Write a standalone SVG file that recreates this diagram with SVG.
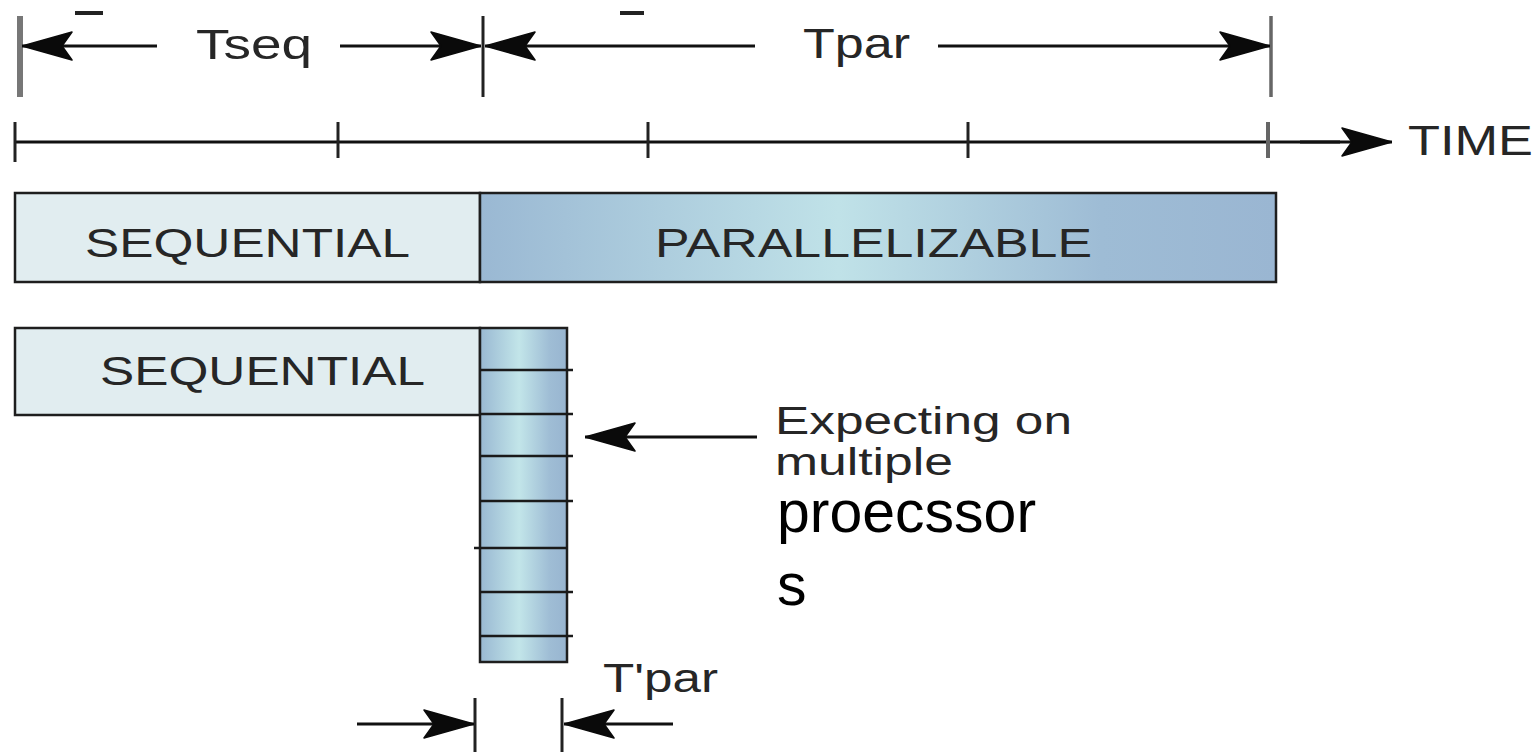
<svg xmlns="http://www.w3.org/2000/svg" width="1539" height="752" viewBox="0 0 1539 752">
  <style>
    .lbl { font-family: "Liberation Sans", Arial, sans-serif; fill: #262626; }
    .box { stroke: #1e1e1e; stroke-width: 2.5; }
    .seq { fill: #e1edf0; }
    .line { stroke: #111; stroke-width: 3; fill: none; }
    .tick { stroke: #222; stroke-width: 3; }
    .div { stroke: #1a1a1a; stroke-width: 2.5; }
  </style>
  <defs>
    <marker id="arrow" viewBox="0 0 52 30" refX="52" refY="15" markerWidth="52" markerHeight="30" markerUnits="userSpaceOnUse" orient="auto">
      <path d="M52,15 L2,1 L12,15 L2,29 Z" fill="#0a0a0a" stroke="#0a0a0a" stroke-width="1.5" stroke-linejoin="round"/>
    </marker>
    <linearGradient id="parBar" x1="480" y1="0" x2="1276" y2="0" gradientUnits="userSpaceOnUse">
      <stop offset="0" stop-color="#9ab8d3"/>
      <stop offset="0.45" stop-color="#c0e2e8"/>
      <stop offset="0.78" stop-color="#9ebcd5"/>
      <stop offset="1" stop-color="#9ab6d2"/>
    </linearGradient>
    <linearGradient id="parCol" x1="480" y1="0" x2="567" y2="0" gradientUnits="userSpaceOnUse">
      <stop offset="0" stop-color="#99b8d2"/>
      <stop offset="0.45" stop-color="#c2e5e9"/>
      <stop offset="0.8" stop-color="#9fbdd5"/>
      <stop offset="1" stop-color="#98b5d0"/>
    </linearGradient>
  </defs>

  <!-- short marks along the top edge -->
  <rect x="75" y="11" width="28" height="4" fill="#222"/>
  <rect x="620" y="11" width="24" height="4" fill="#222"/>

  <!-- span limits for Tseq / Tpar -->
  <g id="span-ticks">
    <line x1="20" y1="16" x2="20" y2="97" stroke="#777" stroke-width="6"/>
    <line x1="483" y1="16" x2="483" y2="97" class="tick"/>
    <line x1="1271" y1="16" x2="1271" y2="97" stroke="#666" stroke-width="3.5"/>
  </g>

  <g id="tseq-label"><text class="lbl" x="196" y="59" font-size="42" textLength="116" lengthAdjust="spacingAndGlyphs">Tseq</text></g>
  <g id="tpar-label"><text class="lbl" x="803" y="58" font-size="42" textLength="107" lengthAdjust="spacingAndGlyphs">Tpar</text></g>

  <!-- time axis -->
  <g id="time-axis">
    <line x1="15" y1="142" x2="1340" y2="142" class="line"/>
    <line x1="15" y1="122" x2="15" y2="162" class="tick"/>
    <line x1="338" y1="122" x2="338" y2="158" class="tick"/>
    <line x1="648" y1="122" x2="648" y2="158" class="tick"/>
    <line x1="968" y1="122" x2="968" y2="158" class="tick"/>
    <line x1="1268" y1="122" x2="1268" y2="158" stroke="#666" stroke-width="4"/>
    <text class="lbl" x="1408" y="155" font-size="42" textLength="125" lengthAdjust="spacingAndGlyphs">TIME</text>
  </g>

  <!-- single-processor run -->
  <g id="seq-bar">
    <rect x="15" y="193" width="465" height="89" class="box seq"/>
    <text class="lbl" x="85" y="257" font-size="40" textLength="325" lengthAdjust="spacingAndGlyphs">SEQUENTIAL</text>
  </g>
  <g id="par-bar">
    <rect x="480" y="193" width="796" height="89" class="box" fill="url(#parBar)"/>
    <text class="lbl" x="655" y="257" font-size="40" textLength="437" lengthAdjust="spacingAndGlyphs">PARALLELIZABLE</text>
  </g>

  <!-- multi-processor run -->
  <g id="seq-block">
    <rect x="15" y="328" width="465" height="87" class="box seq"/>
    <text class="lbl" x="100" y="385" font-size="40" textLength="325" lengthAdjust="spacingAndGlyphs">SEQUENTIAL</text>
  </g>
  <g id="par-column">
    <rect x="480" y="328" width="87" height="334" class="box" fill="url(#parCol)"/>
    <line x1="480" y1="370" x2="573" y2="370" class="div"/>
    <line x1="480" y1="414" x2="573" y2="414" class="div"/>
    <line x1="480" y1="456" x2="573" y2="456" class="div"/>
    <line x1="480" y1="501" x2="573" y2="501" class="div"/>
    <line x1="474" y1="548" x2="567" y2="548" class="div"/>
    <line x1="480" y1="592" x2="573" y2="592" class="div"/>
    <line x1="480" y1="636" x2="573" y2="636" class="div"/>
  </g>

  <g id="note">
    <text class="lbl" x="775" y="434" font-size="38" textLength="297" lengthAdjust="spacingAndGlyphs" fill="#333">Expecting on</text>
    <text class="lbl" x="775" y="475" font-size="38" textLength="178" lengthAdjust="spacingAndGlyphs" fill="#333">multiple</text>
    <text x="777" y="532" font-family="Liberation Sans, Arial, sans-serif" font-size="59" fill="#000">proecssor</text>
    <text x="777" y="605" font-family="Liberation Sans, Arial, sans-serif" font-size="59" fill="#000">s</text>
  </g>

  <!-- T'par width markers -->
  <g id="tpar-prime">
    <line x1="475" y1="698" x2="475" y2="752" class="tick"/>
    <line x1="562" y1="698" x2="562" y2="752" class="tick"/>
    <text class="lbl" x="603" y="692" font-size="40" textLength="115" lengthAdjust="spacingAndGlyphs">T'par</text>
  </g>

  <!-- connectors -->
  <g id="connectors">
    <line x1="157" y1="46" x2="22" y2="46" class="line" marker-end="url(#arrow)"/>
    <line x1="340" y1="46" x2="481" y2="46" class="line" marker-end="url(#arrow)"/>
    <line x1="755" y1="46" x2="485" y2="46" class="line" marker-end="url(#arrow)"/>
    <line x1="938" y1="46" x2="1270" y2="46" class="line" marker-end="url(#arrow)"/>
    <line x1="1300" y1="142" x2="1392" y2="142" class="line" marker-end="url(#arrow)"/>
    <line x1="757" y1="437" x2="585" y2="437" class="line" marker-end="url(#arrow)"/>
    <line x1="357" y1="724" x2="474" y2="724" class="line" marker-end="url(#arrow)"/>
    <line x1="673" y1="724" x2="564" y2="724" class="line" marker-end="url(#arrow)"/>
  </g>
</svg>
